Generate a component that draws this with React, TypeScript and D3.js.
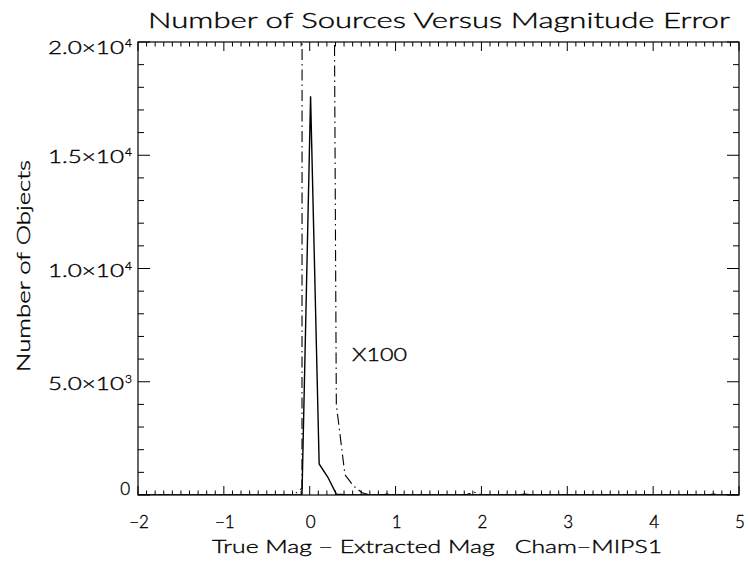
import React from "react";
import * as d3 from "d3";

// Histogram of (true - extracted) magnitude, bin centres and counts
const magError = [-2.0, -0.19, -0.09, 0.01, 0.11, 0.21, 0.31, 0.41, 0.51, 0.61, 0.71, 0.81, 0.91, 1.01, 1.81, 1.91, 2.01, 2.41, 2.51, 2.61, 4.61, 4.71, 4.81, 5.0];
const counts = [0, 0, 3, 17600, 1370, 795, 40, 9, 4, 1, 0, 0, 0.4, 0, 0, 1.3, 0, 0, 0.4, 0, 0, 0.4, 0, 0];
const scaleFactor = 100;

const xMajorTicks = [-2, -1, 0, 1, 2, 3, 4, 5];
const xTickLabels = ["\u22122", "\u22121", "0", "1", "2", "3", "4", "5"];
const yMajorTicks = [0, 5000, 10000, 15000, 20000];
const yTickMantissa = ["0", "5.0\u00d710", "1.0\u00d710", "1.5\u00d710", "2.0\u00d710"];
const yTickExponent = ["", "3", "4", "4", "4"];

const title = "Number of Sources Versus Magnitude Error";
const xTitle = "True Mag \u2212 Extracted Mag   Cham\u2212MIPS1";
const yTitle = "Number of Objects";
const scaleLabel = "X100";

const W = 750, H = 565;
const L = 138, R = 739, T = 42, B = 495;
const FONT = "Lato, 'Open Sans', 'DejaVu Sans', sans-serif";

export default function App() {
  const x = d3.scaleLinear().domain([-2, 5]).range([L, R]);
  const y = d3.scaleLinear().domain([0, 20000]).range([B, T]);
  const pts = magError.map((m, i) => ({ m, c: counts[i] }));
  const line = d3.line<any>().x(d => x(d.m)).y(d => y(d.c));
  const line100 = d3.line<any>().x(d => x(d.m)).y(d => y(d.c * scaleFactor));

  const xMinor = d3.range(-20, 51).map(v => v / 10).filter(v => Math.abs(v - Math.round(v)) > 1e-6);
  const yMinor = d3.range(0, 20001, 1000).filter(v => v % 5000 !== 0);
  const xMaj = 9, xMin = 4.5, yMaj = 12, yMin = 6;

  return (
    <svg width={W} height={H} style={{ position: "absolute", left: 0, top: 0, background: "#fff" }} fontFamily={FONT} fontWeight={300}>
      <defs>
        <clipPath id="plotclip"><rect x={L} y={T} width={R - L} height={B - T} /></clipPath>
      </defs>
      <rect x={0} y={0} width={W} height={H} fill="#fff" />
      <g clipPath="url(#plotclip)" fill="none" stroke="#000" strokeWidth={1.1}>
        <path d={line(pts) || ""} strokeWidth={1.4} />
        <path d={line100(pts) || ""} strokeDasharray="11,4,1.5,4" />
      </g>
      <rect x={L} y={T} width={R - L} height={B - T} fill="none" stroke="#000" strokeWidth={1.2} />
      <g stroke="#000" strokeWidth={1}>
        {xMajorTicks.map(v => (
          <g key={"xm" + v}>
            <line x1={x(v)} x2={x(v)} y1={B} y2={B - xMaj} />
            <line x1={x(v)} x2={x(v)} y1={T} y2={T + xMaj} />
          </g>
        ))}
        {xMinor.map(v => (
          <g key={"xn" + v}>
            <line x1={x(v)} x2={x(v)} y1={B} y2={B - xMin} />
            <line x1={x(v)} x2={x(v)} y1={T} y2={T + xMin} />
          </g>
        ))}
        {yMajorTicks.map(v => (
          <g key={"ym" + v}>
            <line x1={L} x2={L + yMaj} y1={y(v)} y2={y(v)} />
            <line x1={R} x2={R - yMaj} y1={y(v)} y2={y(v)} />
          </g>
        ))}
        {yMinor.map(v => (
          <g key={"yn" + v}>
            <line x1={L} x2={L + yMin} y1={y(v)} y2={y(v)} />
            <line x1={R} x2={R - yMin} y1={y(v)} y2={y(v)} />
          </g>
        ))}
      </g>
      <g fill="#000" stroke="#000" strokeWidth={0.35}>
        <g fontSize={17}>
          {xMajorTicks.map((v, i) => (
            <text key={"xl" + v} x={x(v) + 1} y={528} textAnchor="middle">{xTickLabels[i]}</text>
          ))}
          {yMajorTicks.map((v, i) => {
            const cy = Math.min(Math.max(y(v) + 2, T + 6), B - 6);
            if (!yTickExponent[i]) {
              return <text key={"yl" + v} x={130} y={cy + 6} textAnchor="end">{yTickMantissa[i]}</text>;
            }
            return (
              <g key={"yl" + v}>
                <text x={48} y={cy + 6} textLength={76} lengthAdjust="spacingAndGlyphs">{yTickMantissa[i]}</text>
                <text x={125} y={cy - 1} fontSize={12}>{yTickExponent[i]}</text>
              </g>
            );
          })}
        </g>
        <text x={439} y={28} fontSize={21} textAnchor="middle" textLength={582} lengthAdjust="spacingAndGlyphs">{title}</text>
        <text x={437} y={553} fontSize={18} textAnchor="middle" textLength={450} lengthAdjust="spacingAndGlyphs" style={{ whiteSpace: "pre" }}>{xTitle}</text>
        <text transform={`translate(30,266) rotate(-90)`} fontSize={18} textAnchor="middle" textLength={212} lengthAdjust="spacingAndGlyphs">{yTitle}</text>
        <text x={352} y={361} fontSize={18} textLength={55} lengthAdjust="spacingAndGlyphs">{scaleLabel}</text>
      </g>
    </svg>
  );
}
